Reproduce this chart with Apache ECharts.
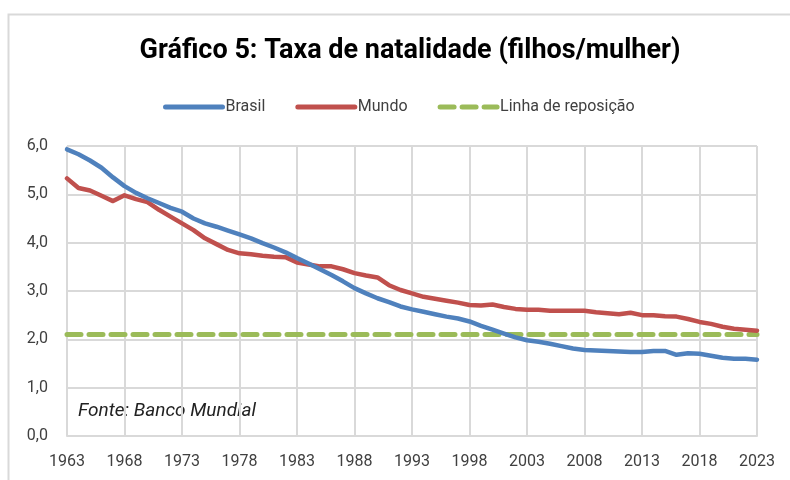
<!DOCTYPE html>
<html>
<head>
<meta charset="utf-8">
<script src="https://cdn.jsdelivr.net/npm/echarts@6/dist/echarts.min.js"></script>
<style>
  html, body { margin: 0; padding: 0; background: #fff; }
  #chart { width: 790px; height: 480px; }
</style>
</head>
<body>
<div id="chart"></div>
<script>
// anos 1963..2023
const years = [];
for (let y = 1963; y <= 2023; y++) years.push(String(y));

// taxa de fecundidade (filhos por mulher)
const brasil = [
  5.93, 5.83, 5.70, 5.55, 5.35, 5.17, 5.03, 4.92, 4.82, 4.72,
  4.64, 4.50, 4.40, 4.33, 4.25, 4.17, 4.09, 3.99, 3.90, 3.80,
  3.68, 3.57, 3.45, 3.33, 3.20, 3.06, 2.95, 2.85, 2.77, 2.68,
  2.62, 2.57, 2.52, 2.47, 2.43, 2.37, 2.28, 2.20, 2.12, 2.04,
  1.98, 1.95, 1.91, 1.86, 1.81, 1.78, 1.77, 1.76, 1.75, 1.74,
  1.74, 1.76, 1.76, 1.68, 1.71, 1.70, 1.66, 1.62, 1.60, 1.60,
  1.58
];
const mundo = [
  5.33, 5.13, 5.08, 4.97, 4.86, 4.98, 4.90, 4.84, 4.68, 4.54,
  4.40, 4.26, 4.09, 3.97, 3.85, 3.78, 3.76, 3.73, 3.71, 3.70,
  3.59, 3.55, 3.51, 3.51, 3.45, 3.37, 3.32, 3.28, 3.12, 3.02,
  2.95, 2.88, 2.84, 2.80, 2.76, 2.71, 2.70, 2.72, 2.67, 2.63,
  2.61, 2.61, 2.59, 2.59, 2.59, 2.59, 2.56, 2.54, 2.52, 2.55,
  2.50, 2.50, 2.48, 2.47, 2.42, 2.36, 2.32, 2.26, 2.22, 2.20,
  2.18
];
const reposicao = years.map(() => 2.1);

const font = 'Roboto, "Liberation Sans", sans-serif';
const gray = '#D9D9D9';

const myChart = echarts.init(document.getElementById('chart'));
myChart.setOption({
  animation: false,
  title: {
    text: 'Gráfico 5: Taxa de natalidade (filhos/mulher)',
    left: 405,
    top: 33,
    textAlign: 'center',
    textStyle: { fontFamily: font, fontSize: 27, fontWeight: 'bold', color: '#000' }
  },
  legend: {
    top: 94,
    left: 158,
    itemWidth: 57,
    itemHeight: 5,
    itemGap: 30,
    itemStyle: { opacity: 0 },
    lineStyle: { width: 5, cap: 'round' },
    textStyle: { fontFamily: font, fontSize: 16, color: '#404040', padding: [0, 0, 0, -2] },
    data: ['Brasil', 'Mundo', 'Linha de reposição']
  },
  grid: { left: 67, right: 33, top: 146, bottom: 44, containLabel: false },
  xAxis: {
    type: 'category',
    data: years,
    boundaryGap: false,
    axisLine: { lineStyle: { color: gray, width: 2 } },
    axisTick: { show: false },
    axisLabel: { interval: 4, margin: 18, fontFamily: font, fontSize: 16, color: '#404040' },
    splitLine: { show: true, interval: 4, lineStyle: { color: gray, width: 2 } }
  },
  yAxis: {
    type: 'value',
    min: 0,
    max: 6,
    interval: 1,
    axisLine: { show: false },
    axisTick: { show: false },
    axisLabel: {
      margin: 19,
      fontFamily: font, fontSize: 16, color: '#404040',
      formatter: v => v.toFixed(1).replace('.', ',')
    },
    splitLine: { lineStyle: { color: gray, width: 2 } }
  },
  graphic: [
    {
      type: 'rect',
      shape: { x: 8.5, y: 14.5, width: 800, height: 500 },
      style: { fill: 'none', stroke: gray, lineWidth: 2 },
      silent: true
    },
    {
      type: 'text',
      left: 78,
      top: 402,
      style: { text: 'Fonte: Banco Mundial', fontFamily: font, fontSize: 19, fontStyle: 'italic', fill: '#222' }
    }
  ],
  series: [
    {
      name: 'Brasil', type: 'line', data: brasil,
      symbol: 'none', z: 3,
      lineStyle: { color: '#4F81BD', width: 4.5, cap: 'round', join: 'round' },
      itemStyle: { color: '#4F81BD' }
    },
    {
      name: 'Mundo', type: 'line', data: mundo,
      symbol: 'none', z: 2,
      lineStyle: { color: '#C0504D', width: 4.5, cap: 'round', join: 'round' },
      itemStyle: { color: '#C0504D' }
    },
    {
      name: 'Linha de reposição', type: 'line', data: reposicao,
      symbol: 'none', z: 1,
      lineStyle: { color: '#9BBB59', width: 5, type: [14, 8], cap: 'round' },
      itemStyle: { color: '#9BBB59' }
    }
  ]
});
</script>
</body>
</html>
